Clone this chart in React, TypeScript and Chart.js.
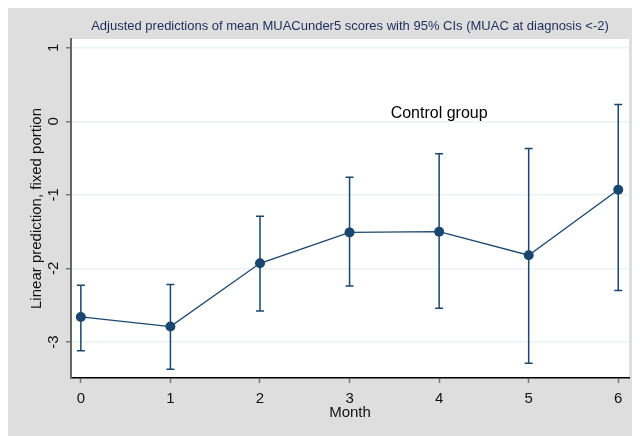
import React, { useEffect, useRef } from "react";
import { Chart, registerables } from "chart.js";

Chart.register(...registerables);

const months = [0, 1, 2, 3, 4, 5, 6];
const predicted = [-2.66, -2.79, -1.93, -1.51, -1.5, -1.82, -0.93];
const ciLower = [-3.12, -3.37, -2.58, -2.24, -2.54, -3.29, -2.3];
const ciUpper = [-2.23, -2.22, -1.29, -0.76, -0.44, -0.37, 0.23];
const yTicks = [-3, -2, -1, 0, 1];
const xTicks = months;
const titleText =
  "Adjusted predictions of mean MUACunder5 scores with 95% CIs (MUAC at diagnosis <-2)";
const yTitle = "Linear prediction, fixed portion";
const xTitle = "Month";
const annotationText = "Control group";
const annotationX = 4;
const annotationY = 0.1;

const NAVY = "#1a476f";
const FONT = "'Liberation Sans', Arial, sans-serif";

const bgPlugin = {
  id: "bg",
  beforeDraw(chart: any) {
    const { ctx, chartArea } = chart;
    ctx.save();
    ctx.fillStyle = "#dedede";
    ctx.fillRect(0, 0, chart.width, chart.height);
    ctx.fillStyle = "#ffffff";
    ctx.fillRect(
      chartArea.left,
      chartArea.top,
      chartArea.right - chartArea.left,
      chartArea.bottom - chartArea.top
    );
    ctx.restore();
  },
};

const errorBarPlugin = {
  id: "errorBars",
  beforeDatasetsDraw(chart: any) {
    const { ctx, scales } = chart;
    const xs = scales.x;
    const ys = scales.y;
    ctx.save();
    ctx.strokeStyle = NAVY;
    ctx.lineWidth = 1.5;
    const cap = 4;
    months.forEach((m, i) => {
      const px = xs.getPixelForValue(m);
      const lo = ys.getPixelForValue(ciLower[i]);
      const hi = ys.getPixelForValue(ciUpper[i]);
      ctx.beginPath();
      ctx.moveTo(px, lo);
      ctx.lineTo(px, hi);
      ctx.moveTo(px - cap, lo);
      ctx.lineTo(px + cap, lo);
      ctx.moveTo(px - cap, hi);
      ctx.lineTo(px + cap, hi);
      ctx.stroke();
    });
    ctx.restore();
  },
  afterDatasetsDraw(chart: any) {
    const { ctx, scales } = chart;
    ctx.save();
    ctx.fillStyle = "#000000";
    ctx.font = `16px ${FONT}`;
    ctx.textAlign = "center";
    ctx.textBaseline = "middle";
    ctx.fillText(
      annotationText,
      scales.x.getPixelForValue(annotationX),
      scales.y.getPixelForValue(annotationY)
    );
    ctx.restore();
  },
};

export default function App() {
  const ref = useRef<HTMLCanvasElement | null>(null);
  useEffect(() => {
    if (!ref.current) return;
    const chart = new Chart(ref.current, {
      type: "line",
      data: {
        datasets: [
          {
            data: months.map((m, i) => ({ x: m, y: predicted[i] })),
            borderColor: NAVY,
            backgroundColor: NAVY,
            borderWidth: 1.3,
            pointRadius: 5,
            pointBackgroundColor: NAVY,
            pointBorderWidth: 0,
            tension: 0,
            fill: false,
          },
        ],
      },
      options: {
        animation: false,
        responsive: false,
        events: [],
        layout: { padding: { left: 0, right: 11, top: 0, bottom: 0 } },
        plugins: {
          legend: { display: false },
          tooltip: { enabled: false },
          title: {
            display: true,
            text: titleText,
            color: "#1c2d5c",
            font: { family: FONT, size: 13, weight: "normal" },
            fullSize: false,
            padding: { top: 11, bottom: 4.4 },
          },
        },
        scales: {
          x: {
            type: "linear",
            min: -0.11,
            max: 6.12,
            afterBuildTicks: (s: any) => {
              s.ticks = xTicks.map((v) => ({ value: v }));
            },
            afterFit: (s: any) => {
              s.height = 58;
            },
            ticks: {
              color: "#111",
              font: { family: FONT, size: 15 },
              padding: 7,
              maxRotation: 0,
              minRotation: 0,
            },
            grid: {
              drawOnChartArea: false,
              drawTicks: true,
              tickLength: 5,
              tickColor: "#777",
              tickWidth: 1.5,
            },
            border: { color: "#000", width: 1.5 },
            title: {
              display: true,
              text: xTitle,
              color: "#111",
              font: { family: FONT, size: 15 },
              padding: 14,
            },
          },
          y: {
            type: "linear",
            min: -3.49,
            max: 1.12,
            afterBuildTicks: (s: any) => {
              s.ticks = yTicks.map((v) => ({ value: v }));
            },
            afterFit: (s: any) => {
              s.width = 63;
            },
            ticks: {
              color: "#111",
              font: { family: FONT, size: 15 },
              padding: 5,
              minRotation: 90,
              maxRotation: 90,
              crossAlign: "center",
            },
            grid: {
              color: "#eaf2f3",
              lineWidth: 1.5,
              drawTicks: true,
              tickLength: 5,
              tickColor: "#777",
              tickWidth: 1.5,
            },
            border: { color: "#666", width: 2 },
            title: {
              display: true,
              text: yTitle,
              color: "#111",
              font: { family: FONT, size: 15 },
              padding: 20,
            },
          },
        },
      },
      plugins: [bgPlugin, errorBarPlugin],
    } as any);
    return () => chart.destroy();
  }, []);
  return (
    <div style={{ width: 632, height: 428 }}>
      <canvas ref={ref} width={632} height={428} style={{ display: "block" }} />
    </div>
  );
}
